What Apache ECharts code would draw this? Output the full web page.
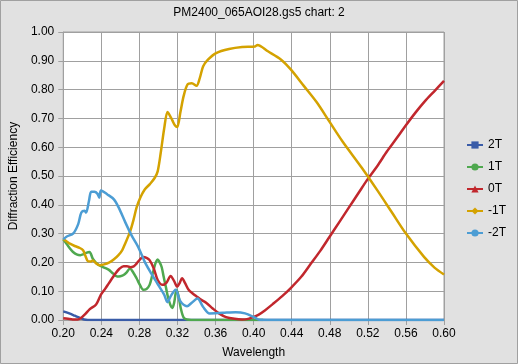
<!DOCTYPE html>
<html><head><meta charset="utf-8">
<script src="https://cdn.jsdelivr.net/npm/echarts@6/dist/echarts.min.js"></script>
<style>html,body{margin:0;padding:0;background:#e1e1e1}#c{width:518px;height:364px}</style>
</head><body><div id="c"></div>
<script>
const titleText = 'PM2400_065AOI28.gs5 chart: 2';
const seriesNames = ['2T', '1T', '0T', '-1T', '-2T'];
const xTicks = [0.20, 0.24, 0.28, 0.32, 0.36, 0.40, 0.44, 0.48, 0.52, 0.56, 0.60];

const p2T = [[0.2,0.03],[0.207,0.022],[0.212,0.015],[0.217,0.008],[0.222,0.002],[0.23,0],[0.3,0],[0.4,0],[0.5,0],[0.6,0]];

const p1T = [[0.2,0.28],[0.204,0.262],[0.207,0.248],[0.21,0.237],[0.214,0.228],[0.218,0.225],[0.221,0.228],[0.224,0.233],[0.2276,0.236],[0.231,0.213],[0.234,0.2],[0.2378,0.19],[0.243,0.182],[0.248,0.174],[0.252,0.162],[0.2566,0.151],[0.26,0.152],[0.2634,0.156],[0.267,0.167],[0.27,0.179],[0.2735,0.165],[0.277,0.145],[0.2805,0.122],[0.284,0.105],[0.2875,0.108],[0.2907,0.122],[0.2935,0.155],[0.2958,0.185],[0.2975,0.202],[0.2992,0.21],[0.301,0.202],[0.3033,0.185],[0.3055,0.15],[0.3077,0.116],[0.31,0.08],[0.3128,0.05],[0.3146,0.042],[0.3165,0.06],[0.319,0.105],[0.321,0.085],[0.3235,0.04],[0.3265,0.008],[0.33,0.002],[0.34,0],[0.36,0],[0.41,0]];

const p0T = [[0.2,0.006],[0.205,0.004],[0.21,0.002],[0.215,0.002],[0.219,0.008],[0.223,0.02],[0.2276,0.037],[0.2345,0.054],[0.2396,0.088],[0.244,0.108],[0.248,0.128],[0.255,0.162],[0.259,0.178],[0.2634,0.187],[0.267,0.187],[0.2703,0.183],[0.274,0.186],[0.277,0.196],[0.2805,0.21],[0.284,0.219],[0.2875,0.216],[0.2907,0.208],[0.295,0.18],[0.2992,0.139],[0.3044,0.122],[0.3085,0.13],[0.3128,0.153],[0.3165,0.135],[0.3197,0.116],[0.3225,0.13],[0.3248,0.145],[0.328,0.128],[0.3317,0.105],[0.336,0.092],[0.34,0.082],[0.345,0.07],[0.3504,0.059],[0.357,0.04],[0.364,0.022],[0.371,0.01],[0.38,0.004],[0.388,0.002],[0.393,0.003],[0.398,0.008],[0.405,0.018],[0.4118,0.033],[0.42,0.055],[0.43,0.083],[0.439,0.111],[0.45,0.15],[0.46,0.195],[0.47,0.24],[0.48,0.29],[0.49,0.34],[0.5,0.39],[0.51,0.44],[0.52,0.49],[0.53,0.535],[0.54,0.585],[0.55,0.63],[0.56,0.676],[0.57,0.72],[0.58,0.76],[0.59,0.795],[0.6,0.83]];

const pm1T = [[0.2,0.281],[0.204,0.272],[0.207,0.265],[0.212,0.257],[0.2174,0.25],[0.2208,0.242],[0.223,0.225],[0.226,0.204],[0.229,0.203],[0.231,0.207],[0.234,0.198],[0.238,0.19],[0.243,0.193],[0.248,0.199],[0.253,0.21],[0.258,0.225],[0.262,0.243],[0.265,0.265],[0.27,0.305],[0.274,0.35],[0.277,0.39],[0.281,0.425],[0.2856,0.453],[0.291,0.472],[0.296,0.493],[0.2992,0.516],[0.3026,0.585],[0.306,0.664],[0.3095,0.722],[0.312,0.71],[0.3146,0.693],[0.3175,0.675],[0.3197,0.67],[0.3231,0.722],[0.3265,0.778],[0.3306,0.818],[0.335,0.822],[0.34,0.813],[0.3435,0.841],[0.347,0.881],[0.352,0.904],[0.3606,0.927],[0.3742,0.941],[0.3879,0.948],[0.4015,0.95],[0.404,0.955],[0.415,0.933],[0.4289,0.904],[0.439,0.87],[0.4527,0.813],[0.4663,0.756],[0.48,0.687],[0.4936,0.619],[0.514,0.527],[0.53,0.45],[0.545,0.375],[0.56,0.3],[0.579,0.219],[0.59,0.182],[0.6,0.158]];

const pm2T = [[0.2,0.28],[0.2037,0.29],[0.2106,0.301],[0.2157,0.333],[0.219,0.373],[0.2225,0.379],[0.224,0.373],[0.227,0.413],[0.2293,0.445],[0.2327,0.445],[0.236,0.438],[0.2378,0.425],[0.2396,0.45],[0.2464,0.436],[0.2532,0.419],[0.2583,0.39],[0.2652,0.339],[0.2719,0.293],[0.2788,0.253],[0.2856,0.202],[0.2924,0.162],[0.2992,0.125],[0.306,0.088],[0.3095,0.062],[0.3128,0.082],[0.318,0.105],[0.323,0.065],[0.33,0.048],[0.335,0.06],[0.341,0.075],[0.347,0.045],[0.3538,0.023],[0.3675,0.025],[0.381,0.027],[0.391,0.023],[0.4015,0.008],[0.406,0.001],[0.45,0],[0.5,0],[0.6,0]];

const colors = ['#3a5ca8', '#4fa84f', '#c1272d', '#d4a200', '#4c9dd4'];
const symbols = ['rect', 'circle', 'triangle', 'diamond', 'circle'];
const dataSets = [p2T, p1T, p0T, pm1T, pm2T];
const FONT = 'Arial, "Liberation Sans", sans-serif';

const chart = echarts.init(document.getElementById('c'), null, {renderer: 'canvas'});
chart.setOption({
  animation: false,
  backgroundColor: '#e1e1e1',
  textStyle: {fontFamily: FONT},
  title: {text: titleText, left: 'center', top: 2,
    textStyle: {fontSize: 12, fontWeight: 'normal', color: '#000', fontFamily: FONT}},
  graphic: [{type: 'rect', shape: {x: 0.5, y: 0.5, width: 517, height: 363},
    style: {fill: null, stroke: '#a0a0a0', lineWidth: 1}, z: 100}],
  legend: {orient: 'vertical', left: 461, top: 134, itemWidth: 16, itemHeight: 9, itemGap: 10,
    data: seriesNames,
    textStyle: {fontSize: 12, color: '#000', fontFamily: FONT}},
  grid: {left: 53, right: 74, top: 32, bottom: 40, show: true, backgroundColor: '#fff',
    borderColor: '#a0a0a0', borderWidth: 1},
  xAxis: {type: 'value', min: 0.2, max: 0.6, interval: 0.04,
    name: 'Wavelength', nameLocation: 'middle', nameGap: 27,
    nameTextStyle: {fontSize: 12, color: '#000', fontFamily: FONT},
    axisLine: {lineStyle: {color: '#a0a0a0'}},
    axisTick: {show: true, length: 5, lineStyle: {color: '#a0a0a0'}},
    axisLabel: {fontSize: 12, color: '#000', margin: 8, formatter: v => v.toFixed(2)},
    splitLine: {show: true, lineStyle: {color: '#a0a0a0'}}},
  yAxis: {type: 'value', min: 0, max: 1, interval: 0.1,
    name: 'Diffraction Efficiency', nameLocation: 'middle', nameGap: 41,
    nameTextStyle: {fontSize: 12, color: '#000', fontFamily: FONT},
    axisLine: {show: true, lineStyle: {color: '#a0a0a0'}},
    axisTick: {show: true, length: 5, lineStyle: {color: '#a0a0a0'}},
    axisLabel: {fontSize: 12, color: '#000', margin: 9, formatter: v => v.toFixed(2)},
    splitLine: {show: true, lineStyle: {color: '#a0a0a0'}}},
  series: seriesNames.map((n, i) => ({
    name: n, type: 'line', data: dataSets[i], smooth: 0.3,
    symbol: symbols[i], symbolSize: 7, showSymbol: false,
    itemStyle: {color: colors[i]},
    lineStyle: {color: colors[i], width: 2.5}
  }))
});
</script></body></html>
